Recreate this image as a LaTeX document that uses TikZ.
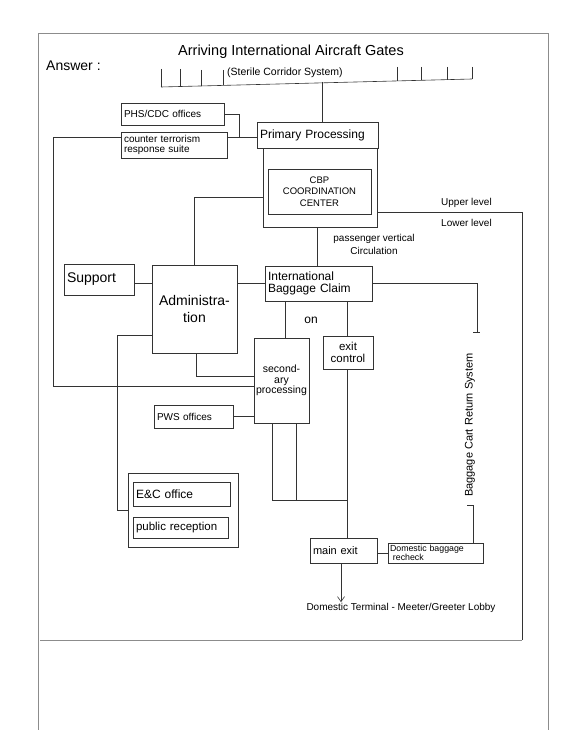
\documentclass[tikz,border=0pt]{standalone}
\usepackage{fontspec}
\setmainfont{Liberation Sans}
\usetikzlibrary{arrows.meta,calc}
\newcommand{\fs}[1]{\fontsize{#1}{#1}\selectfont}
\begin{document}
\begin{tikzpicture}[x=1pt,y=-1pt,
  ln/.style={draw=black!80, line width=0.6pt},
  frame/.style={draw=black!45, line width=0.6pt},
  box/.style={draw=black!80, line width=0.6pt, inner sep=3pt, align=left, font=\fs{8.5}},
  cbox/.style={box, align=center},
  lbl/.style={inner sep=1pt, font=\fs{9}}]
\useasboundingbox (0,0) rectangle (560,730);
\fill[white] (0,0) rectangle (560,730);
% page frame
\draw[frame] (38,730) -- (38,33) -- (548,33) -- (548,730);
% texts
\node[lbl, anchor=west, font=\fs{14}] (ans) at (45,66) {Answer :};
\node[lbl, font=\fs{14.5}] (title) at (291,52) {Arriving International Aircraft Gates};
\node[lbl, anchor=west, font=\fs{10.5}] (sterile) at (226,73) {(Sterile Corridor System)};
% gates
\draw[ln] (161,87) -- (472,79);
\foreach \x/\t in {161/69,180/69,201/70,223/70,397/67,421/67,447/67,472/67}
  \draw[ln] (\x,\t) -- (\x,{87-(\x-161)*8/311});
% boxes
\node[box, minimum width=103, minimum height=22, text width=97pt, font=\fs{10}] (phs) at (172.5,114) {PHS/CDC offices};
\node[box, minimum width=106, minimum height=26, text width=100pt, inner ysep=2pt, font=\fs{10}] (ct) at (174,145) {counter terrorism\\response suite};
\node[box, minimum width=121, minimum height=26, text width=115pt, font=\fs{12}] (pp) at (317.5,135) {Primary Processing};
\node[box, minimum width=114, minimum height=79] (cbpo) at (320,187.5) {};
\node[cbox, minimum width=103, minimum height=45, font=\fs{9.5}] (cbp) at (319.5,191.5) {CBP\\[2pt]COORDINATION\\[2pt]CENTER};
\node[box, minimum width=107, minimum height=35, text width=101pt, font=\fs{12}] (ibc) at (318.5,283.5) {International\\Baggage Claim};
\node[box, minimum width=70, minimum height=31, text width=64pt, font=\fs{14}] (sup) at (99,279.5) {Support};
\node[cbox, minimum width=85, minimum height=88, font=\fs{14}] (adm) at (194.5,309) {Administra-\\[3pt]tion};
\node[cbox, minimum width=55, minimum height=85, inner sep=1pt, font=\fs{10.5}] (sec) at (281.5,380.5) {second-\\ary\\processing};
\node[cbox, minimum width=50, minimum height=33, inner sep=1pt, font=\fs{11.5}] (exc) at (348,352.5) {exit\\control};
\node[box, minimum width=79, minimum height=23, text width=73pt, font=\fs{10}] (pws) at (193.5,416.5) {PWS offices};
\node[box, minimum width=110, minimum height=74] (ecg) at (183,510) {};
\node[box, minimum width=97, minimum height=24, text width=91pt, font=\fs{12}] (eco) at (181.5,494) {E\&C office};
\node[box, minimum width=95, minimum height=21, text width=89pt, font=\fs{11.5}] (pub) at (180.5,527.5) {public reception};
\node[box, minimum width=67, minimum height=25, text width=61pt, font=\fs{11}] (mex) at (343.5,550.5) {main exit};
\node[box, minimum width=95, minimum height=20, text width=91pt, inner xsep=2pt, inner ysep=1pt, font=\fs{8.8}] (dbr) at (435.5,553) {Domestic baggage\\\ recheck};
% free labels
\node[lbl, align=center, font=\fs{10}] (pvc) at (374,244) {passenger vertical\\[3pt]Circulation};
\node[lbl, anchor=west, font=\fs{10}] (upper) at (440,203) {Upper level};
\node[lbl, anchor=west, font=\fs{10}] (lower) at (440,223) {Lower level};
\node[lbl, font=\fs{12}] (on) at (311,320) {on};
\node[lbl, rotate=90, font=\fs{11}] (bcrs) at (470,425) {Baggage Cart Return System};
\node[lbl, font=\fs{10}] (lobby) at (401,608) {Domestic Terminal - Meeter/Greeter Lobby};
% coordinates
\coordinate (g) at (322,82);
\coordinate (j1) at (239,137);
\coordinate (ll1) at (53,137);
\coordinate (ll2) at (53,386);
\coordinate (ca) at (194,197);
\coordinate (lv) at (522,212);
\coordinate (ci) at (317,250);
\coordinate (bc1) at (477,283);
\coordinate (bc2) at (477,332);
\coordinate (bc3) at (473,505);
\coordinate (al1) at (117,335);
\coordinate (ab) at (196,376);
\coordinate (is) at (285,320);
\coordinate (s1) at (272,500);
\coordinate (s2) at (296,500);
\coordinate (s3) at (347,500);
\coordinate (ar) at (341,580);
\coordinate (bl) at (40,640);
\coordinate (br) at (522,640);
% connectors
\draw[ln] (g) -- (g |- pp.north);
\draw[ln] (phs.east) -| (j1);
\draw[ln] (ct.east |- j1) -- (pp.west |- j1);
\draw[ln] (ct.west |- ll1) -- (ll1) -- (ll2) -- (sec.west |- ll2);
\draw[ln] (cbpo.west |- ca) -- (ca) -- (ca |- adm.north);
\draw[ln] (cbpo.east |- lv) -- (lv) -- (br);
\draw[frame] (bl) -- (br);
\draw[ln] (ci |- cbpo.south) -- (ci |- ibc.north);
\draw[ln] (ibc.east |- bc1) -- (bc1) -- (bc2);
\draw[ln] ($(bc2)+(-4,0)$) -- ++(7,0);
\draw[ln] (bc3) -- (bc3 |- dbr.north);
\draw[ln] ($(bc3)+(-6,0)$) -- (bc3);
\draw[ln] (sup.east |- bc1) -- (adm.west |- bc1);
\draw[ln] (adm.east |- bc1) -- (ibc.west |- bc1);
\draw[ln] (adm.west |- al1) -- (al1) -- (al1 |- ecg.west) -- (ecg.west);
\draw[ln] (ab |- adm.south) -- (ab) -- (sec.west |- ab);
\draw[ln] (is |- ibc.south) -- (is |- sec.north);
\draw[ln] (s3 |- ibc.south) -- (s3 |- exc.north);
\draw[ln] (pws.east) -- (sec.west |- pws.east);
\draw[ln] (s1 |- sec.south) -- (s1) -- (s3);
\draw[ln] (s2 |- sec.south) -- (s2);
\draw[ln] (s3 |- exc.south) -- (s3 |- mex.north);
\draw[ln] (mex.east |- dbr.west) -- (dbr.west);
\draw[ln, -{Straight Barb[length=5pt,width=7pt]}] (ar |- mex.south) -- (ar |- lobby.north);
\end{tikzpicture}
\end{document}
